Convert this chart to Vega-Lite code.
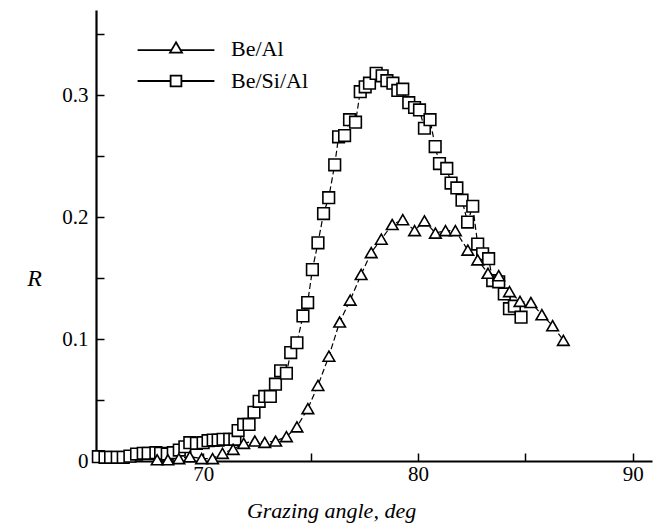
{
  "$schema": "https://vega.github.io/schema/vega-lite/v6.json",
  "width": 556,
  "height": 451,
  "autosize": "none",
  "padding": {"left": 96, "top": 10, "right": 1, "bottom": 65},
  "background": "white",
  "config": {
    "view": {"stroke": null},
    "font": "Liberation Serif",
    "axis": {
      "grid": false,
      "domainColor": "black",
      "domainWidth": 2.2,
      "tickColor": "black",
      "tickWidth": 1.5,
      "tickSize": -8,
      "labelColor": "black",
      "titleFontWeight": "normal",
      "titleColor": "black"
    }
  },
  "data": {
    "values": [
      {"s": "Be/Si/Al", "a": 65.11, "r": 0.0035},
      {"s": "Be/Si/Al", "a": 65.42, "r": 0.003},
      {"s": "Be/Si/Al", "a": 65.68, "r": 0.003},
      {"s": "Be/Si/Al", "a": 65.99, "r": 0.003},
      {"s": "Be/Si/Al", "a": 66.27, "r": 0.003},
      {"s": "Be/Si/Al", "a": 66.58, "r": 0.004},
      {"s": "Be/Si/Al", "a": 66.89, "r": 0.0057},
      {"s": "Be/Si/Al", "a": 67.2, "r": 0.0063},
      {"s": "Be/Si/Al", "a": 67.43, "r": 0.0063},
      {"s": "Be/Si/Al", "a": 67.79, "r": 0.0068},
      {"s": "Be/Si/Al", "a": 68.01, "r": 0.0063},
      {"s": "Be/Si/Al", "a": 68.32, "r": 0.0057},
      {"s": "Be/Si/Al", "a": 68.6, "r": 0.0068},
      {"s": "Be/Si/Al", "a": 68.88, "r": 0.009},
      {"s": "Be/Si/Al", "a": 69.14, "r": 0.0117},
      {"s": "Be/Si/Al", "a": 69.37, "r": 0.015},
      {"s": "Be/Si/Al", "a": 69.68, "r": 0.0145},
      {"s": "Be/Si/Al", "a": 69.99, "r": 0.015},
      {"s": "Be/Si/Al", "a": 70.22, "r": 0.0167},
      {"s": "Be/Si/Al", "a": 70.46, "r": 0.0172},
      {"s": "Be/Si/Al", "a": 70.69, "r": 0.0172},
      {"s": "Be/Si/Al", "a": 70.92, "r": 0.0178},
      {"s": "Be/Si/Al", "a": 71.23, "r": 0.0178},
      {"s": "Be/Si/Al", "a": 71.47, "r": 0.0178},
      {"s": "Be/Si/Al", "a": 71.62, "r": 0.025},
      {"s": "Be/Si/Al", "a": 71.88, "r": 0.03},
      {"s": "Be/Si/Al", "a": 72.13, "r": 0.03},
      {"s": "Be/Si/Al", "a": 72.36, "r": 0.04},
      {"s": "Be/Si/Al", "a": 72.6, "r": 0.049},
      {"s": "Be/Si/Al", "a": 72.86, "r": 0.053},
      {"s": "Be/Si/Al", "a": 73.12, "r": 0.053},
      {"s": "Be/Si/Al", "a": 73.36, "r": 0.063},
      {"s": "Be/Si/Al", "a": 73.6, "r": 0.074},
      {"s": "Be/Si/Al", "a": 73.87, "r": 0.072},
      {"s": "Be/Si/Al", "a": 74.07, "r": 0.089},
      {"s": "Be/Si/Al", "a": 74.36, "r": 0.097},
      {"s": "Be/Si/Al", "a": 74.64, "r": 0.119},
      {"s": "Be/Si/Al", "a": 74.86, "r": 0.13},
      {"s": "Be/Si/Al", "a": 75.08, "r": 0.157},
      {"s": "Be/Si/Al", "a": 75.34, "r": 0.179},
      {"s": "Be/Si/Al", "a": 75.6, "r": 0.203},
      {"s": "Be/Si/Al", "a": 75.84, "r": 0.216},
      {"s": "Be/Si/Al", "a": 76.12, "r": 0.243},
      {"s": "Be/Si/Al", "a": 76.3, "r": 0.266},
      {"s": "Be/Si/Al", "a": 76.58, "r": 0.267},
      {"s": "Be/Si/Al", "a": 76.81, "r": 0.28},
      {"s": "Be/Si/Al", "a": 77.09, "r": 0.278},
      {"s": "Be/Si/Al", "a": 77.31, "r": 0.303},
      {"s": "Be/Si/Al", "a": 77.54, "r": 0.307},
      {"s": "Be/Si/Al", "a": 77.74, "r": 0.31},
      {"s": "Be/Si/Al", "a": 78.05, "r": 0.318},
      {"s": "Be/Si/Al", "a": 78.33, "r": 0.316},
      {"s": "Be/Si/Al", "a": 78.55, "r": 0.312},
      {"s": "Be/Si/Al", "a": 78.83, "r": 0.31},
      {"s": "Be/Si/Al", "a": 79.06, "r": 0.304},
      {"s": "Be/Si/Al", "a": 79.29, "r": 0.305},
      {"s": "Be/Si/Al", "a": 79.57, "r": 0.294},
      {"s": "Be/Si/Al", "a": 79.84, "r": 0.29},
      {"s": "Be/Si/Al", "a": 80.07, "r": 0.288},
      {"s": "Be/Si/Al", "a": 80.3, "r": 0.273},
      {"s": "Be/Si/Al", "a": 80.56, "r": 0.28},
      {"s": "Be/Si/Al", "a": 80.8, "r": 0.258},
      {"s": "Be/Si/Al", "a": 81.0, "r": 0.244},
      {"s": "Be/Si/Al", "a": 81.34, "r": 0.24},
      {"s": "Be/Si/Al", "a": 81.54, "r": 0.228},
      {"s": "Be/Si/Al", "a": 81.81, "r": 0.224},
      {"s": "Be/Si/Al", "a": 82.05, "r": 0.214},
      {"s": "Be/Si/Al", "a": 82.31, "r": 0.196},
      {"s": "Be/Si/Al", "a": 82.55, "r": 0.209},
      {"s": "Be/Si/Al", "a": 82.78, "r": 0.178},
      {"s": "Be/Si/Al", "a": 83.01, "r": 0.17},
      {"s": "Be/Si/Al", "a": 83.29, "r": 0.166},
      {"s": "Be/Si/Al", "a": 83.48, "r": 0.148},
      {"s": "Be/Si/Al", "a": 83.76, "r": 0.147},
      {"s": "Be/Si/Al", "a": 84.02, "r": 0.137},
      {"s": "Be/Si/Al", "a": 84.26, "r": 0.125},
      {"s": "Be/Si/Al", "a": 84.49, "r": 0.127},
      {"s": "Be/Si/Al", "a": 84.8, "r": 0.118},
      {"s": "Be/Al", "a": 67.85, "r": 0.001},
      {"s": "Be/Al", "a": 68.35, "r": 0.001},
      {"s": "Be/Al", "a": 68.86, "r": 0.002},
      {"s": "Be/Al", "a": 69.37, "r": 0.0035},
      {"s": "Be/Al", "a": 69.92, "r": 0.002},
      {"s": "Be/Al", "a": 70.43, "r": 0.002},
      {"s": "Be/Al", "a": 70.89, "r": 0.0063},
      {"s": "Be/Al", "a": 71.39, "r": 0.0096},
      {"s": "Be/Al", "a": 71.88, "r": 0.0145},
      {"s": "Be/Al", "a": 72.4, "r": 0.0164},
      {"s": "Be/Al", "a": 72.86, "r": 0.0153},
      {"s": "Be/Al", "a": 73.37, "r": 0.0164},
      {"s": "Be/Al", "a": 73.87, "r": 0.02},
      {"s": "Be/Al", "a": 74.36, "r": 0.028},
      {"s": "Be/Al", "a": 74.87, "r": 0.043},
      {"s": "Be/Al", "a": 75.34, "r": 0.062},
      {"s": "Be/Al", "a": 75.85, "r": 0.086},
      {"s": "Be/Al", "a": 76.35, "r": 0.114},
      {"s": "Be/Al", "a": 76.84, "r": 0.132},
      {"s": "Be/Al", "a": 77.35, "r": 0.153},
      {"s": "Be/Al", "a": 77.82, "r": 0.171},
      {"s": "Be/Al", "a": 78.29, "r": 0.182},
      {"s": "Be/Al", "a": 78.8, "r": 0.194},
      {"s": "Be/Al", "a": 79.29, "r": 0.198},
      {"s": "Be/Al", "a": 79.84, "r": 0.189},
      {"s": "Be/Al", "a": 80.3, "r": 0.197},
      {"s": "Be/Al", "a": 80.81, "r": 0.187},
      {"s": "Be/Al", "a": 81.28, "r": 0.189},
      {"s": "Be/Al", "a": 81.74, "r": 0.189},
      {"s": "Be/Al", "a": 82.32, "r": 0.173},
      {"s": "Be/Al", "a": 82.78, "r": 0.165},
      {"s": "Be/Al", "a": 83.26, "r": 0.154},
      {"s": "Be/Al", "a": 83.76, "r": 0.152},
      {"s": "Be/Al", "a": 84.26, "r": 0.139},
      {"s": "Be/Al", "a": 84.75, "r": 0.131},
      {"s": "Be/Al", "a": 85.26, "r": 0.13},
      {"s": "Be/Al", "a": 85.77, "r": 0.12},
      {"s": "Be/Al", "a": 86.27, "r": 0.111},
      {"s": "Be/Al", "a": 86.77, "r": 0.099}
    ]
  },
  "encoding": {
    "x": {
      "field": "a",
      "type": "quantitative",
      "scale": {"domain": [65, 90.9], "nice": false, "zero": false},
      "axis": {
        "values": [70, 75, 80, 85, 90],
        "labelExpr": "datum.value % 10 === 0 ? datum.label : ''",
        "labelFont": "Liberation Serif",
        "labelFontSize": 21,
        "labelPadding": 10,
        "title": "Grazing angle, deg",
        "titleFont": "Liberation Serif",
        "titleFontSize": 22,
        "titleFontStyle": "italic",
        "titleX": 235,
        "titleY": 56,
        "titleAnchor": "middle",
        "titleAlign": "center",
        "titleBaseline": "alphabetic"
      }
    },
    "y": {
      "field": "r",
      "type": "quantitative",
      "scale": {"domain": [0, 0.37], "nice": false},
      "axis": {
        "values": [0, 0.05, 0.1, 0.15, 0.2, 0.25, 0.3, 0.35],
        "format": ".1~f",
        "labelExpr": "abs(datum.value * 10 - round(datum.value * 10)) < 0.001 ? datum.label : ''",
        "labelFont": "Liberation Serif",
        "labelFontSize": 21,
        "labelPadding": 16,
        "title": "R",
        "titleFont": "Liberation Serif",
        "titleFontStyle": "italic",
        "titleFontSize": 24,
        "titleAngle": 0,
        "titleX": -62,
        "titleY": 268,
        "titleAlign": "center",
        "titleBaseline": "middle"
      }
    }
  },
  "layer": [
    {
      "mark": {"type": "line", "color": "black", "strokeWidth": 1.2, "strokeDash": [6, 3]},
      "encoding": {"detail": {"field": "s"}}
    },
    {
      "mark": {"type": "point", "fill": "white", "stroke": "black", "strokeWidth": 1.6, "opacity": 1, "fillOpacity": 1, "size": 135},
      "encoding": {
        "shape": {
          "field": "s",
          "type": "nominal",
          "scale": {"domain": ["Be/Al", "Be/Si/Al"], "range": ["triangle-up", "square"]},
          "legend": null
        }
      }
    },
    {
      "transform": [{"filter": "false"}],
      "mark": {"type": "point", "filled": false, "color": "black", "strokeWidth": 1.8, "opacity": 1, "size": 144},
      "encoding": {
        "shape": {
          "field": "s",
          "type": "nominal",
          "scale": {
            "domain": ["Be/Al", "Be/Si/Al"],
            "range": [
              "M-6.4,0.2L-0.77,0.2M0.77,0.2L6.4,0.2M0,-1.1L-1,0.6L1,0.6Z",
              "M-6.4,0L-0.9,0M0.9,0L6.4,0M-0.9,-0.9L0.9,-0.9L0.9,0.9L-0.9,0.9Z"
            ]
          },
          "legend": {
            "orient": "none",
            "legendX": 69,
            "legendY": 28,
            "title": null,
            "padding": 0,
            "labelFont": "Liberation Serif",
            "labelFontSize": 22,
            "labelColor": "black",
            "labelOffset": 44,
            "rowPadding": 10,
            "symbolSize": 144,
            "symbolStrokeWidth": 1.8,
            "symbolOpacity": 1
          }
        }
      }
    }
  ],
  "resolve": {"scale": {"shape": "independent"}, "legend": {"shape": "independent"}}
}
